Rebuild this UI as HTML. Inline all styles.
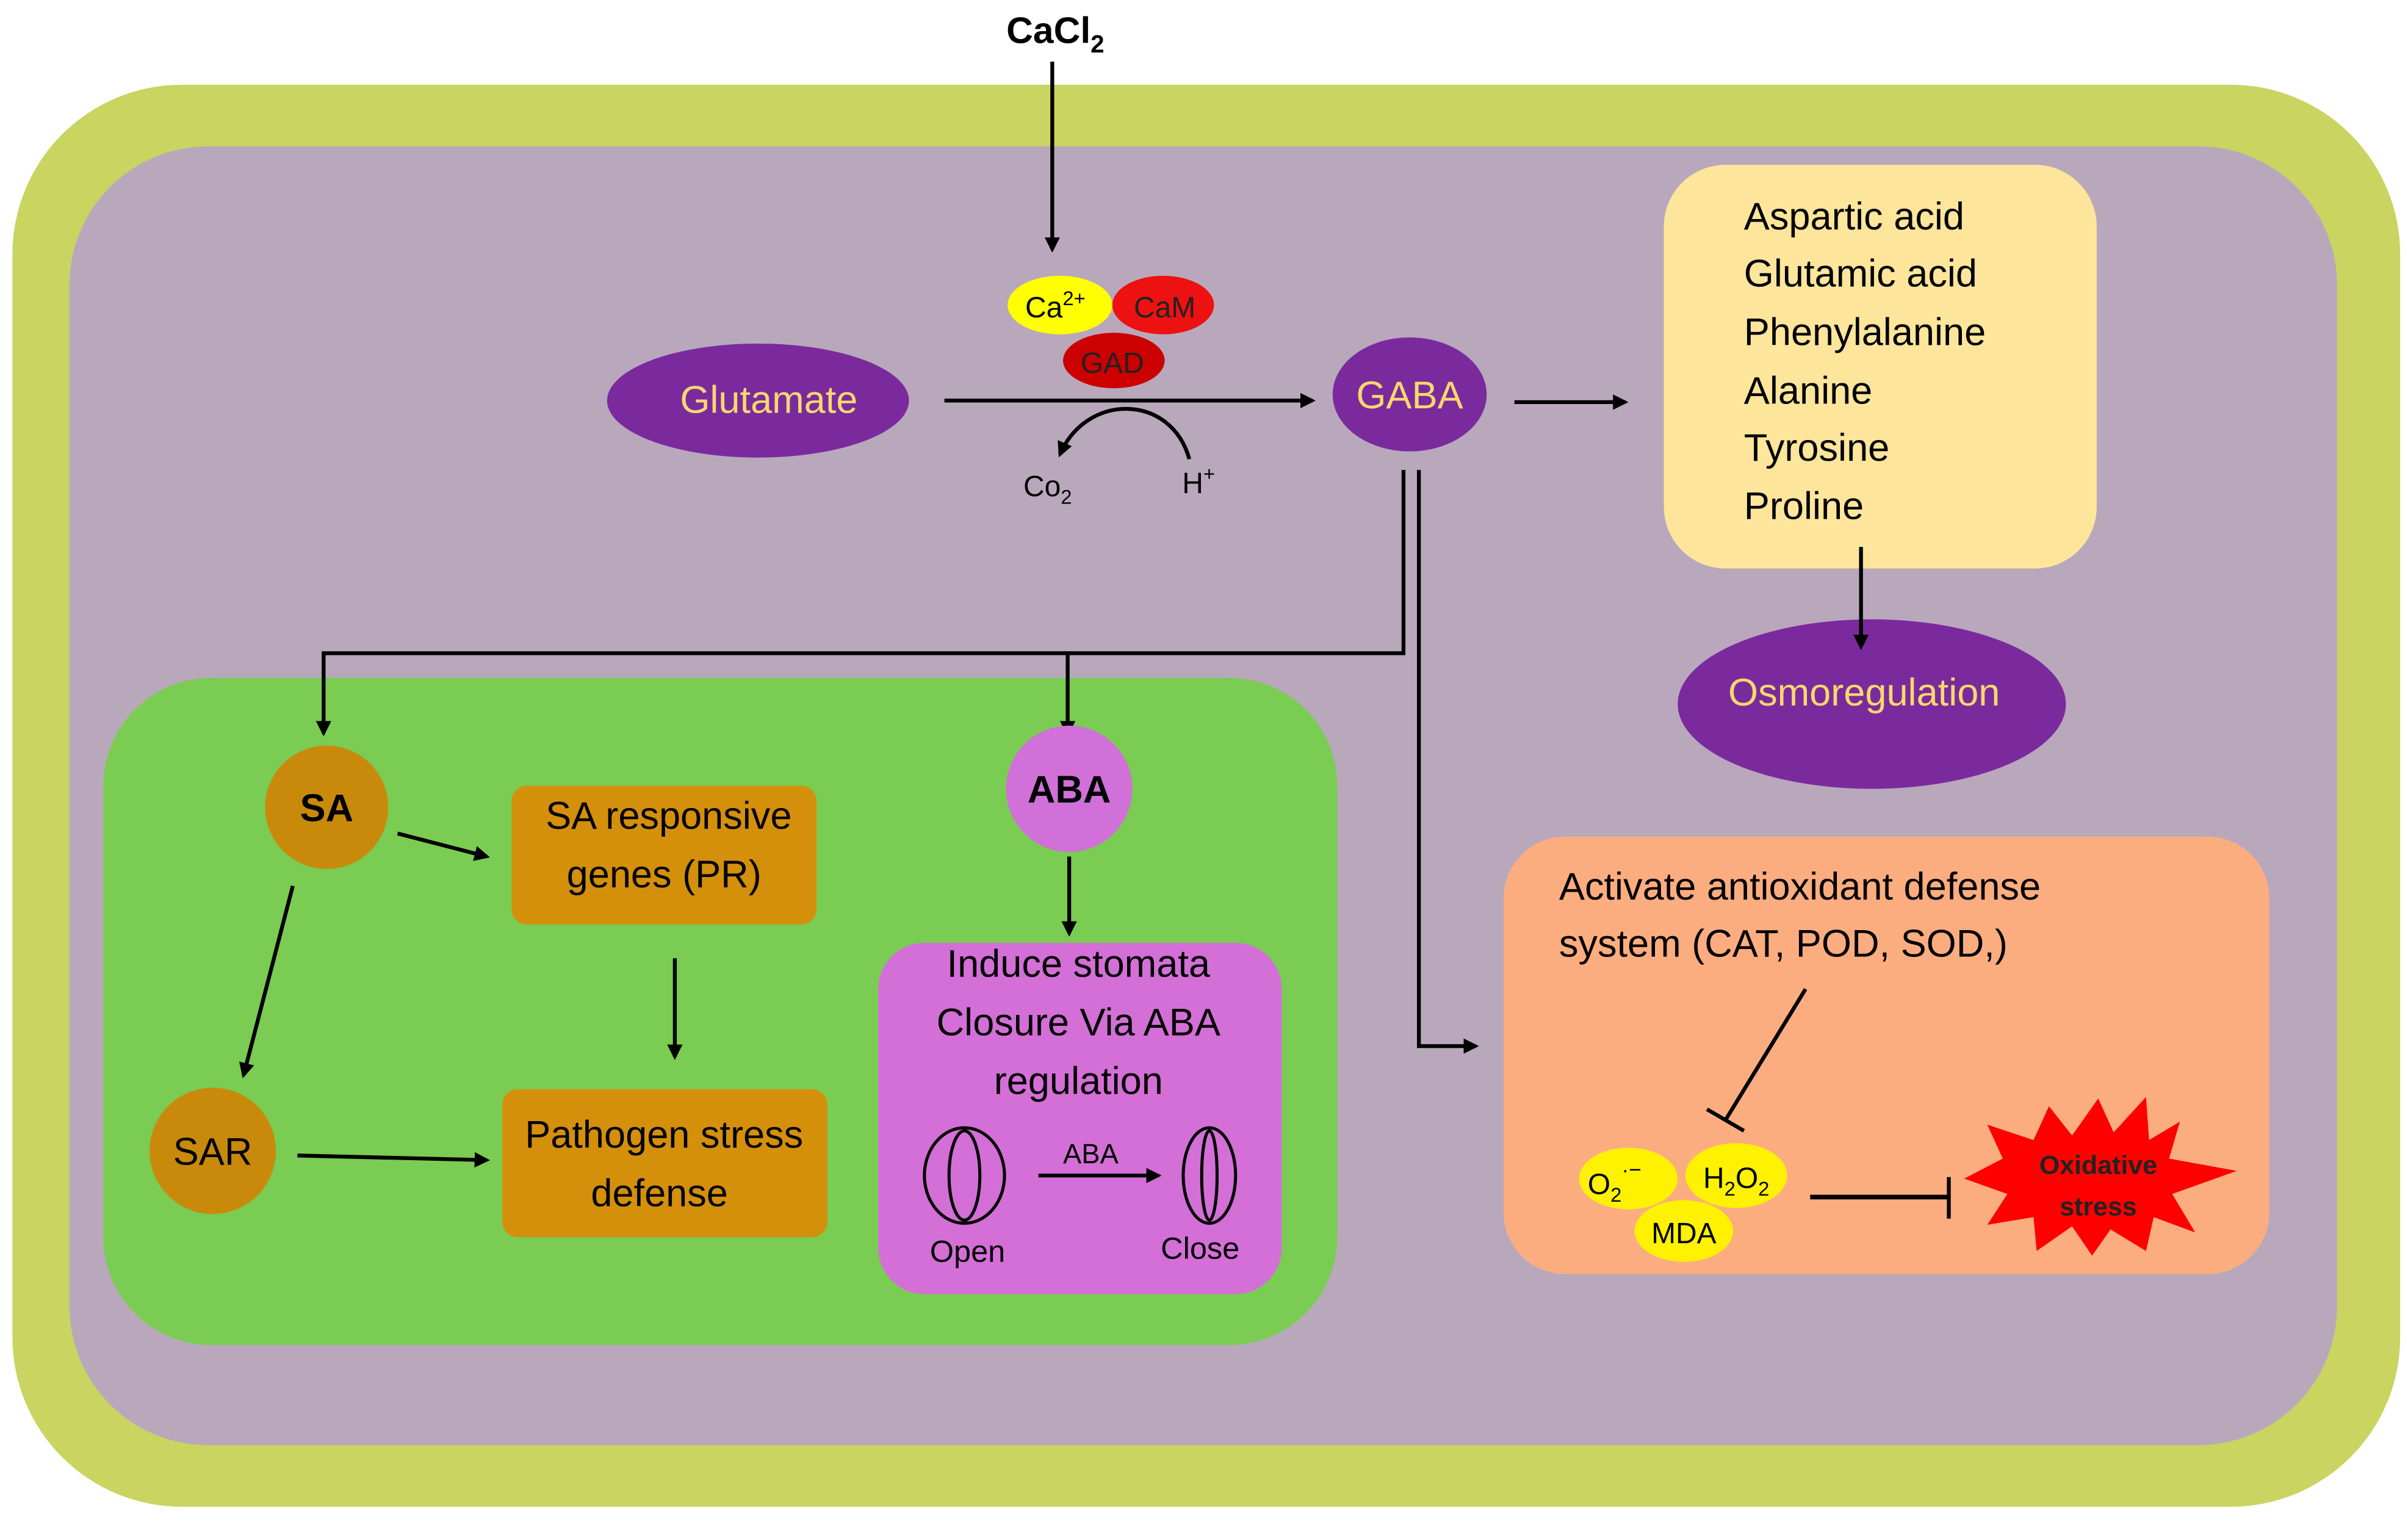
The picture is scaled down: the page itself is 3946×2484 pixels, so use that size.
<!DOCTYPE html>
<html><head><meta charset="utf-8"><style>html,body{margin:0;padding:0;background:#fff}svg{display:block}text{font-family:"Liberation Sans",sans-serif}</style></head><body>
<svg width="3946" height="2484" viewBox="0 0 1563 984" xmlns="http://www.w3.org/2000/svg">
<defs><marker id="a" markerWidth="10" markerHeight="10" refX="8" refY="5" orient="auto" markerUnits="userSpaceOnUse"><path d="M0,0 L10,5 L0,10 z" fill="#000"/></marker></defs>
<rect width="1563" height="984" fill="#fff"/>
<rect x="8" y="55" width="1550" height="923" rx="110" fill="#c9d461"/>
<rect x="45" y="95" width="1472" height="843" rx="90" fill="#b9a8bc"/>
<text x="685" y="28" font-size="24" font-weight="bold" text-anchor="middle">CaCl<tspan font-size="16" dy="6">2</tspan></text>
<line x1="683" y1="40" x2="683" y2="162" stroke="#000" stroke-width="2.5" marker-end="url(#a)"/>
<ellipse cx="688" cy="198" rx="34" ry="19" fill="#ffff00"/>
<ellipse cx="755" cy="198" rx="33" ry="19" fill="#ee1111"/>
<ellipse cx="723" cy="234" rx="33" ry="18" fill="#cc0000"/>
<text x="685" y="206" font-size="19" text-anchor="middle">Ca<tspan font-size="13" dy="-8">2+</tspan></text>
<text x="756" y="206" font-size="19" text-anchor="middle" fill="#222">CaM</text>
<text x="722" y="242" font-size="19" text-anchor="middle" fill="#222">GAD</text>
<ellipse cx="492" cy="260" rx="98" ry="37" fill="#7b2a9e"/>
<text x="499" y="268" font-size="25" text-anchor="middle" fill="#f6d86e">Glutamate</text>
<line x1="613" y1="260" x2="852" y2="260" stroke="#000" stroke-width="2.5" marker-end="url(#a)"/>
<path d="M772,298 C760,255 705,255 688,295" fill="none" stroke="#000" stroke-width="2.5" marker-end="url(#a)"/>
<text x="680" y="322" font-size="19" text-anchor="middle">Co<tspan font-size="13" dy="5">2</tspan></text>
<text x="778" y="320" font-size="19" text-anchor="middle">H<tspan font-size="13" dy="-8">+</tspan></text>
<ellipse cx="915" cy="256" rx="50" ry="37" fill="#7b2a9e"/>
<text x="915" y="265" font-size="25" text-anchor="middle" fill="#f6d86e">GABA</text>
<line x1="983" y1="261" x2="1055" y2="261" stroke="#000" stroke-width="2.5" marker-end="url(#a)"/>
<rect x="1080" y="107" width="281" height="262" rx="40" fill="#fde59b"/>
<g font-size="25"><text x="1132" y="149">Aspartic acid</text><text x="1132" y="186">Glutamic acid</text><text x="1132" y="224">Phenylalanine</text><text x="1132" y="262">Alanine</text><text x="1132" y="299">Tyrosine</text><text x="1132" y="337">Proline</text></g>
<ellipse cx="1215" cy="457" rx="126" ry="55" fill="#7b2a9e"/>
<line x1="1208" y1="355" x2="1208" y2="420" stroke="#000" stroke-width="2.5" marker-end="url(#a)"/>
<text x="1210" y="458" font-size="25" text-anchor="middle" fill="#f6d86e">Osmoregulation</text>
<rect x="67" y="440" width="801" height="433" rx="70" fill="#7acc52"/>
<polyline points="911,305 911,424 210,424 210,476" fill="none" stroke="#000" stroke-width="2.5" marker-end="url(#a)"/>
<line x1="693" y1="424" x2="693" y2="476" stroke="#000" stroke-width="2.5" marker-end="url(#a)"/>
<polyline points="921,305 921,679 958,679" fill="none" stroke="#000" stroke-width="2.5" marker-end="url(#a)"/>
<circle cx="212" cy="524" r="40" fill="#c98a0b"/>
<text x="212" y="533" font-size="25" font-weight="bold" text-anchor="middle">SA</text>
<rect x="332" y="510" width="198" height="90" rx="10" fill="#d4900a"/>
<text x="434" y="538" font-size="25" text-anchor="middle">SA responsive</text>
<text x="431" y="576" font-size="25" text-anchor="middle">genes (PR)</text>
<line x1="258" y1="541" x2="316" y2="556" stroke="#000" stroke-width="2.5" marker-end="url(#a)"/>
<line x1="438" y1="622" x2="438" y2="686" stroke="#000" stroke-width="2.5" marker-end="url(#a)"/>
<line x1="190" y1="575" x2="158" y2="698" stroke="#000" stroke-width="2.5" marker-end="url(#a)"/>
<circle cx="138" cy="747" r="41" fill="#c98a0b"/>
<text x="138" y="756" font-size="25" text-anchor="middle">SAR</text>
<line x1="193" y1="750" x2="316" y2="753" stroke="#000" stroke-width="2.5" marker-end="url(#a)"/>
<rect x="326" y="707" width="211" height="96" rx="10" fill="#d4900a"/>
<text x="431" y="745" font-size="25" text-anchor="middle">Pathogen stress</text>
<text x="428" y="783" font-size="25" text-anchor="middle">defense</text>
<circle cx="694" cy="512" r="41" fill="#d070d8"/>
<text x="694" y="521" font-size="25" font-weight="bold" text-anchor="middle">ABA</text>
<line x1="694" y1="556" x2="694" y2="606" stroke="#000" stroke-width="2.5" marker-end="url(#a)"/>
<rect x="570" y="612" width="262" height="228" rx="30" fill="#d46fd7"/>
<g font-size="25" text-anchor="middle"><text x="700" y="634">Induce stomata</text><text x="700" y="672">Closure Via ABA</text><text x="700" y="710">regulation</text></g>
<ellipse cx="626" cy="763" rx="26" ry="31" fill="none" stroke="#000" stroke-width="2"/>
<ellipse cx="626" cy="763" rx="10" ry="29" fill="none" stroke="#000" stroke-width="2"/>
<ellipse cx="785" cy="763" rx="17" ry="31" fill="none" stroke="#000" stroke-width="2"/>
<ellipse cx="785" cy="763" rx="5" ry="29" fill="none" stroke="#000" stroke-width="2"/>
<line x1="674" y1="763" x2="752" y2="763" stroke="#000" stroke-width="2.5" marker-end="url(#a)"/>
<text x="708" y="755" font-size="18" text-anchor="middle">ABA</text>
<text x="628" y="819" font-size="20" text-anchor="middle">Open</text>
<text x="779" y="817" font-size="20" text-anchor="middle">Close</text>
<rect x="976" y="543" width="497" height="284" rx="40" fill="#fcad80"/>
<text x="1012" y="584" font-size="25">Activate antioxidant defense</text>
<text x="1012" y="621" font-size="25">system (CAT, POD, SOD,)</text>
<line x1="1172" y1="642" x2="1120" y2="727" stroke="#000" stroke-width="2.5"/>
<line x1="1108" y1="720" x2="1132" y2="734" stroke="#000" stroke-width="2.5"/>
<ellipse cx="1057" cy="765" rx="32" ry="20" fill="#fff200"/>
<ellipse cx="1127" cy="763" rx="33" ry="21" fill="#fff200"/>
<ellipse cx="1093" cy="799" rx="32" ry="20" fill="#fff200"/>
<text x="1048" y="775" font-size="19" text-anchor="middle">O<tspan font-size="13" dy="5">2</tspan><tspan font-size="14" dy="-16">·−</tspan></text>
<text x="1127" y="771" font-size="19" text-anchor="middle">H<tspan font-size="13" dy="5">2</tspan><tspan dy="-5">O</tspan><tspan font-size="13" dy="5">2</tspan></text>
<text x="1093" y="807" font-size="19" text-anchor="middle">MDA</text>
<line x1="1175" y1="777" x2="1265" y2="777" stroke="#000" stroke-width="3"/>
<line x1="1265" y1="764" x2="1265" y2="791" stroke="#000" stroke-width="2.5"/>
<polygon fill="#ff0000" points="1362,713 1372,735 1393,712 1395,740 1415,728 1408,752 1452,760 1410,775 1425,800 1398,790 1393,812 1370,798 1358,815 1345,796 1322,812 1320,790 1290,795 1303,775 1275,765 1300,752 1290,730 1320,740 1330,718 1345,737"/>
<text x="1362" y="762" font-size="17" font-weight="bold" text-anchor="middle" fill="#222">Oxidative</text>
<text x="1362" y="789" font-size="17" font-weight="bold" text-anchor="middle" fill="#222">stress</text>
</svg>
</body></html>
